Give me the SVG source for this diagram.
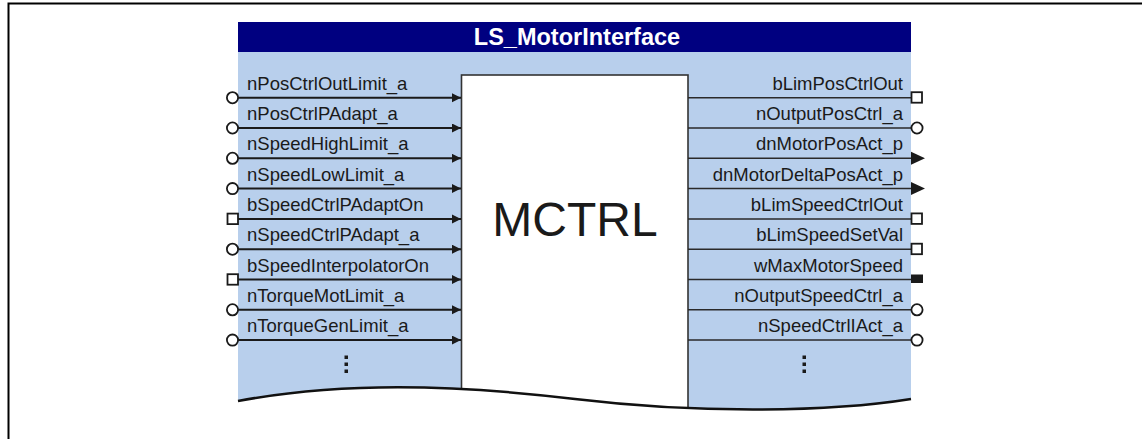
<svg xmlns="http://www.w3.org/2000/svg" width="1142" height="439" viewBox="0 0 1142 439">
<defs>
<style>
.lbl{font-family:"Liberation Sans",Arial,sans-serif;font-size:18.5px;fill:#1a1a1a}
.r{text-anchor:end}
.inl{stroke:#1a1a1a;stroke-width:2;fill:none}
.outl{stroke:#2a2a2a;stroke-width:1.5;fill:none}
.oc{fill:#fff;stroke:#1a1a1a;stroke-width:1.8}
.fill{fill:#1a1a1a}
</style>
<marker id="arr" markerUnits="userSpaceOnUse" markerWidth="10" markerHeight="10" refX="9" refY="4.5" orient="auto"><path d="M0,0 L9,4.5 L0,9 Z" fill="#1a1a1a"/></marker>
</defs>
<rect width="1142" height="439" fill="#fff"/>
<path d="M8.5,439 V3.5 H1142" fill="none" stroke="#000" stroke-width="2"/>

<g id="block">
<rect x="238" y="52" width="673" height="370" fill="#b8cfec"/>
<rect x="238" y="22" width="673" height="30" fill="#000080"/>
<text x="577" y="45" text-anchor="middle" font-family="Liberation Sans,Arial,sans-serif" font-weight="bold" font-size="23.5" fill="#fff">LS_MotorInterface</text>
</g>

<g id="mctrl">
<rect x="461.5" y="75" width="226.5" height="360" fill="#fff" stroke="#333" stroke-width="1.6"/>
<text x="575" y="236" text-anchor="middle" font-family="Liberation Sans,Arial,sans-serif" font-size="48" fill="#1a1a1a">MCTRL</text>
</g>

<g id="connectors">
<path class="inl" marker-end="url(#arr)" d="M238,97.7 H461"/>
<path class="inl" marker-end="url(#arr)" d="M238,128 H461"/>
<path class="inl" marker-end="url(#arr)" d="M238,158.3 H461"/>
<path class="inl" marker-end="url(#arr)" d="M238,188.6 H461"/>
<path class="inl" marker-end="url(#arr)" d="M238,218.9 H461"/>
<path class="inl" marker-end="url(#arr)" d="M238,249.2 H461"/>
<path class="inl" marker-end="url(#arr)" d="M238,279.5 H461"/>
<path class="inl" marker-end="url(#arr)" d="M238,309.8 H461"/>
<path class="inl" marker-end="url(#arr)" d="M238,340.1 H461"/>
<path class="outl" d="M688,97.7 H911 M688,128 H911 M688,158.3 H911 M688,188.6 H911 M688,218.9 H911 M688,249.2 H911 M688,279.5 H911 M688,309.8 H911 M688,340.1 H911"/>
</g>

<g id="in1" transform="translate(0,97.7)"><circle class="oc" cx="232.5" cy="0" r="5.6"/><text class="lbl" x="247" y="-8">nPosCtrlOutLimit_a</text></g>
<g id="in2" transform="translate(0,128)"><circle class="oc" cx="232.5" cy="0" r="5.6"/><text class="lbl" x="247" y="-8">nPosCtrlPAdapt_a</text></g>
<g id="in3" transform="translate(0,158.3)"><circle class="oc" cx="232.5" cy="0" r="5.6"/><text class="lbl" x="247" y="-8">nSpeedHighLimit_a</text></g>
<g id="in4" transform="translate(0,188.6)"><circle class="oc" cx="232.5" cy="0" r="5.6"/><text class="lbl" x="247" y="-8">nSpeedLowLimit_a</text></g>
<g id="in5" transform="translate(0,218.9)"><rect class="oc" x="227.5" y="-5.3" width="10.5" height="10.5"/><text class="lbl" x="247" y="-8">bSpeedCtrlPAdaptOn</text></g>
<g id="in6" transform="translate(0,249.2)"><circle class="oc" cx="232.5" cy="0" r="5.6"/><text class="lbl" x="247" y="-8">nSpeedCtrlPAdapt_a</text></g>
<g id="in7" transform="translate(0,279.5)"><rect class="oc" x="227.5" y="-5.3" width="10.5" height="10.5"/><text class="lbl" x="247" y="-8">bSpeedInterpolatorOn</text></g>
<g id="in8" transform="translate(0,309.8)"><circle class="oc" cx="232.5" cy="0" r="5.6"/><text class="lbl" x="247" y="-8">nTorqueMotLimit_a</text></g>
<g id="in9" transform="translate(0,340.1)"><circle class="oc" cx="232.5" cy="0" r="5.6"/><text class="lbl" x="247" y="-8">nTorqueGenLimit_a</text></g>

<g id="out1" transform="translate(0,97.7)"><rect class="oc" x="911.5" y="-5.5" width="10.5" height="10.5"/><text class="lbl r" x="903" y="-8">bLimPosCtrlOut</text></g>
<g id="out2" transform="translate(0,128)"><circle class="oc" cx="917" cy="0" r="5.6"/><text class="lbl r" x="903" y="-8">nOutputPosCtrl_a</text></g>
<g id="out3" transform="translate(0,158.3)"><path class="fill" d="M911,-6.5 L925,0 L911,6.5 Z"/><text class="lbl r" x="903" y="-8">dnMotorPosAct_p</text></g>
<g id="out4" transform="translate(0,188.6)"><path class="fill" d="M911,-6.5 L925,0 L911,6.5 Z"/><text class="lbl r" x="903" y="-8">dnMotorDeltaPosAct_p</text></g>
<g id="out5" transform="translate(0,218.9)"><rect class="oc" x="911.5" y="-5.5" width="10.5" height="10.5"/><text class="lbl r" x="903" y="-8">bLimSpeedCtrlOut</text></g>
<g id="out6" transform="translate(0,249.2)"><rect class="oc" x="911.5" y="-5.5" width="10.5" height="10.5"/><text class="lbl r" x="903" y="-8">bLimSpeedSetVal</text></g>
<g id="out7" transform="translate(0,279.5)"><rect class="fill" x="911" y="-5" width="12" height="8.5"/><text class="lbl r" x="903" y="-8">wMaxMotorSpeed</text></g>
<g id="out8" transform="translate(0,309.8)"><circle class="oc" cx="917" cy="0" r="5.6"/><text class="lbl r" x="903" y="-8">nOutputSpeedCtrl_a</text></g>
<g id="out9" transform="translate(0,340.1)"><circle class="oc" cx="917" cy="0" r="5.6"/><text class="lbl r" x="903" y="-8">nSpeedCtrlIAct_a</text></g>

<g id="dots" fill="#1a1a1a">
<rect x="344.5" y="355.5" width="3.5" height="3.5"/><rect x="344.5" y="362.5" width="3.5" height="3.5"/><rect x="344.5" y="369.5" width="3.5" height="3.5"/>
<rect x="802.5" y="355.5" width="3.5" height="3.5"/><rect x="802.5" y="362.5" width="3.5" height="3.5"/><rect x="802.5" y="369.5" width="3.5" height="3.5"/>
</g>

<g id="wave">
<path d="M238,401 C340,382 450,384 575,399 S830,412 911,399 L914,439 L237,439 Z" fill="#fff"/>
<path d="M238,401 C340,382 450,384 575,399 S830,412 911,399" fill="none" stroke="#111" stroke-width="2.5"/>
</g>
</svg>
